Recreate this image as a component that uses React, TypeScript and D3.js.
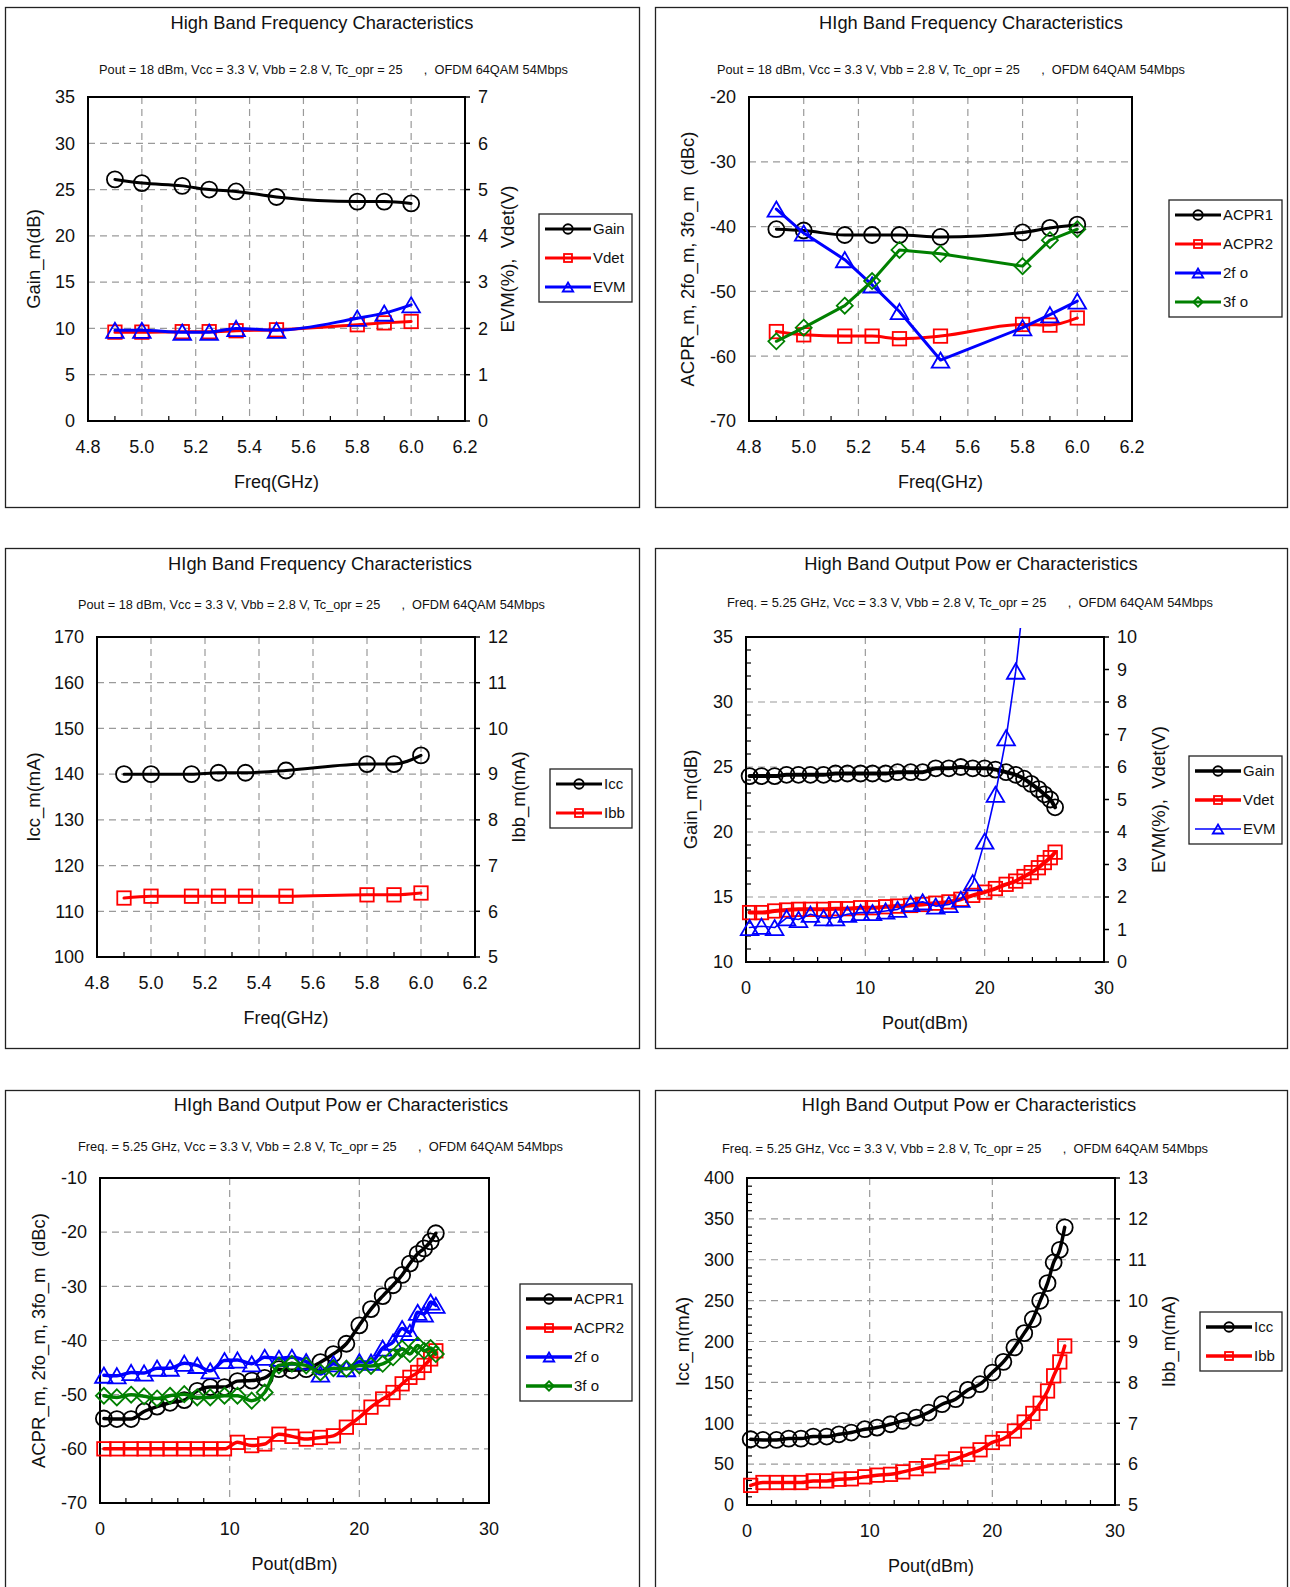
import React from "react";
import * as d3 from "d3";

// ---------- data ----------
const freqGHz = [4.9, 5.0, 5.15, 5.25, 5.35, 5.5, 5.8, 5.9, 6.0];
const freqTicks = [4.8, 5.0, 5.2, 5.4, 5.6, 5.8, 6.0, 6.2];

const gainFreq = [26.1, 25.7, 25.4, 25.0, 24.8, 24.2, 23.7, 23.7, 23.5];
const vdetFreq = [1.92, 1.92, 1.93, 1.93, 1.95, 1.97, 2.08, 2.12, 2.15];
const evmFreq = [1.96, 1.96, 1.92, 1.92, 2.0, 1.96, 2.22, 2.33, 2.51];

const acpr1Freq = [-40.4, -40.6, -41.3, -41.3, -41.3, -41.6, -40.9, -40.2, -39.7];
const acpr2Freq = [-56.2, -56.7, -56.9, -56.9, -57.3, -56.9, -55.1, -55.2, -54.1];
const fo2Freq = [-37.3, -41.0, -45.1, -49.0, -53.1, -60.6, -55.6, -53.6, -51.5];
const fo3Freq = [-57.7, -55.6, -52.2, -48.4, -43.6, -44.2, -46.1, -42.1, -40.4];

const iccFreq = [140.0, 140.0, 140.0, 140.3, 140.3, 140.8, 142.2, 142.2, 144.1];
const ibbFreq = [6.29, 6.33, 6.33, 6.33, 6.33, 6.33, 6.36, 6.36, 6.4];

const poutDbm = [0.3, 1.3, 2.4, 3.4, 4.4, 5.4, 6.5, 7.5, 8.5, 9.6, 10.6, 11.7, 12.7, 13.8, 14.8, 15.9, 17.0, 18.0, 19.0, 20.0, 20.9, 21.8, 22.6, 23.3, 23.9, 24.5, 25.0, 25.5, 25.9];
const poutTicks = [0, 10, 20, 30];

const gainPout = [24.3, 24.3, 24.3, 24.4, 24.4, 24.4, 24.4, 24.5, 24.5, 24.5, 24.5, 24.5, 24.6, 24.6, 24.6, 24.9, 24.9, 25.0, 24.9, 24.9, 24.8, 24.6, 24.4, 24.1, 23.7, 23.3, 22.9, 22.5, 21.9];
const vdetPout = [1.52, 1.52, 1.57, 1.6, 1.62, 1.62, 1.62, 1.64, 1.64, 1.67, 1.67, 1.7, 1.72, 1.74, 1.77, 1.81, 1.85, 1.93, 2.05, 2.15, 2.26, 2.39, 2.49, 2.63, 2.75, 2.9, 3.06, 3.21, 3.38];
const evmPout = [1.06, 1.1, 1.06, 1.36, 1.31, 1.47, 1.36, 1.36, 1.47, 1.52, 1.52, 1.57, 1.62, 1.8, 1.85, 1.72, 1.77, 1.93, 2.44, 3.72, 5.16, 6.9, 8.95, 11.3];

const acpr1Pout = [-54.4, -54.5, -54.5, -53.1, -52.2, -51.5, -51.0, -49.3, -48.6, -48.6, -47.5, -47.4, -46.9, -45.3, -45.5, -45.3, -44.0, -42.5, -40.6, -37.2, -34.2, -31.8, -29.8, -27.9, -25.8, -24.0, -23.0, -21.7, -20.2];
const acpr2Pout = [-60, -60, -60, -60, -60, -60, -60, -60, -60, -60, -58.8, -59.4, -59.1, -57.3, -57.7, -58.2, -57.9, -57.6, -56.0, -54.2, -52.3, -50.8, -49.6, -48.0, -46.8, -45.9, -44.6, -43.4, -41.9];
const fo2Pout = [-46.4, -46.5, -45.9, -46.0, -45.1, -45.1, -44.2, -44.6, -45.6, -43.7, -43.6, -44.3, -43.1, -43.3, -43.1, -43.9, -46.2, -44.3, -45.2, -43.9, -44.0, -41.4, -40.3, -37.8, -38.5, -34.8, -35.1, -32.9, -33.5];
const fo3Pout = [-50.2, -50.5, -50.0, -50.3, -50.7, -50.2, -49.9, -50.5, -50.5, -50.2, -50.2, -51.1, -49.6, -44.6, -44.3, -44.6, -45.9, -45.1, -45.2, -44.6, -44.7, -44.3, -43.1, -41.5, -42.5, -40.9, -41.9, -41.4, -42.5];

const iccPout = [80.4, 79.6, 79.6, 81.2, 81.2, 83.7, 83.7, 86.5, 88.6, 92.7, 94.7, 98.8, 102.9, 106.9, 113.1, 123.3, 129.4, 140.8, 147.8, 162.0, 175.1, 192.7, 210.2, 227.3, 249.8, 271.4, 296.7, 312.2, 339.6];
const ibbPout = [5.48, 5.55, 5.55, 5.55, 5.55, 5.59, 5.59, 5.63, 5.64, 5.69, 5.73, 5.75, 5.81, 5.89, 5.96, 6.05, 6.13, 6.24, 6.35, 6.53, 6.62, 6.81, 7.03, 7.24, 7.49, 7.79, 8.16, 8.5, 8.89];

const subFreq = "Pout = 18 dBm, Vcc = 3.3 V, Vbb = 2.8 V, Tc_opr = 25      ,  OFDM 64QAM 54Mbps";
const subPout = "Freq. = 5.25 GHz, Vcc = 3.3 V, Vbb = 2.8 V, Tc_opr = 25      ,  OFDM 64QAM 54Mbps";

// ---------- drawing ----------
const FONT = "'Liberation Sans', Arial, Helvetica, sans-serif";
const BLACK = "#000000";
const RED = "#ff0000";
const BLUE = "#0000ff";
const GREEN = "#008000";

type Marker = "circle" | "square" | "triangle" | "diamond";
type Series = { name: string; color: string; marker: Marker; xs: number[]; ys: number[]; right?: boolean; width: number; straight?: boolean };
type Axis = { domain: [number, number]; ticks: number[]; minor?: number; label?: string; titleX?: number; fmt?: (v: number) => string };
type PanelSpec = {
  id: string;
  box: [number, number, number, number];
  title: string;
  titleX: number;
  titleY: number;
  subX: number;
  subY: number;
  subLen: number;
  sub: string;
  plot: { l: number; r: number; t: number; b: number };
  x: Axis;
  yl: Axis;
  yr?: Axis;
  legend: { x: number; y: number; w: number };
  series: Series[];
};

function Mark({ kind, cx, cy, s, color }: { kind: Marker; cx: number; cy: number; s: number; color: string }) {
  const sw = 1.8;
  if (kind === "circle") return <circle cx={cx} cy={cy} r={s / 2} fill="none" stroke={color} strokeWidth={sw} />;
  if (kind === "square") {
    const a = s * 0.84;
    return <rect x={cx - a / 2} y={cy - a / 2} width={a} height={a} fill="none" stroke={color} strokeWidth={sw} />;
  }
  if (kind === "triangle") {
    const w = s * 1.1, h = s * 0.95;
    return <path d={`M${cx},${cy - h / 2}L${cx + w / 2},${cy + h / 2}L${cx - w / 2},${cy + h / 2}Z`} fill="none" stroke={color} strokeWidth={sw} />;
  }
  const r = s * 0.5;
  return <path d={`M${cx},${cy - r}L${cx + r},${cy}L${cx},${cy + r}L${cx - r},${cy}Z`} fill="none" stroke={color} strokeWidth={sw} />;
}

function minorTicks(domain: [number, number], step: number, major: number[]) {
  return d3.range(domain[0], domain[1] + step / 2, step)
    .filter(v => !major.some(m => Math.abs(m - v) < step / 10));
}

function Panel({ spec }: { spec: PanelSpec }) {
  const { plot } = spec;
  const x = d3.scaleLinear().domain(spec.x.domain).range([plot.l, plot.r]);
  const yl = d3.scaleLinear().domain(spec.yl.domain).range([plot.b, plot.t]);
  const yr = spec.yr ? d3.scaleLinear().domain(spec.yr.domain).range([plot.b, plot.t]) : yl;
  const smooth = d3.line<[number, number]>().x(d => d[0]).y(d => d[1]).curve(d3.curveMonotoneX);
  const straight = d3.line<[number, number]>().x(d => d[0]).y(d => d[1]);
  const xf = spec.x.fmt || ((v: number) => String(v));
  const xMinor = spec.x.minor ? minorTicks(spec.x.domain, spec.x.minor, spec.x.ticks) : [];
  const ylMinor = spec.yl.minor ? minorTicks(spec.yl.domain, spec.yl.minor, spec.yl.ticks) : [];
  const cx = (plot.l + plot.r) / 2;
  const cy = (plot.t + plot.b) / 2;
  const [bx, by, bw, bh] = spec.box;
  const lg = spec.legend;
  const lgH = 30 + 29 * (spec.series.length - 1);

  return (
    <g>
      <rect x={bx} y={by} width={bw} height={bh} fill="#fff" stroke="#222" strokeWidth={1.3} />
      <text x={spec.titleX} y={spec.titleY} dy="0.35em" textAnchor="middle" fontSize={18.3}>{spec.title}</text>
      <text x={spec.subX} y={spec.subY} dy="0.35em" fontSize={12.5} textLength={spec.subLen} lengthAdjust="spacingAndGlyphs" style={{ whiteSpace: "pre" }}>{spec.sub}</text>

      <defs>
        <clipPath id={`clip-${spec.id}`}>
          <rect x={plot.l - 12} y={plot.t - 9} width={plot.r - plot.l + 24} height={plot.b - plot.t + 18} />
        </clipPath>
      </defs>

      {/* grid */}
      {spec.x.ticks.slice(1, -1).map(v => (
        <line key={"vx" + v} x1={x(v)} x2={x(v)} y1={plot.t} y2={plot.b} stroke="#9a9a9a" strokeWidth={1.2} strokeDasharray="7,5" />
      ))}
      {spec.yl.ticks.slice(1, -1).map(v => (
        <line key={"hy" + v} x1={plot.l} x2={plot.r} y1={yl(v)} y2={yl(v)} stroke="#9a9a9a" strokeWidth={1.2} strokeDasharray="7,5" />
      ))}

      {/* minor ticks, inward */}
      {xMinor.map(v => (
        <line key={"mx" + v} x1={x(v)} x2={x(v)} y1={plot.b} y2={plot.b - 5} stroke={BLACK} strokeWidth={1.2} />
      ))}
      {ylMinor.map(v => (
        <line key={"my" + v} x1={plot.l} x2={plot.l + 5} y1={yl(v)} y2={yl(v)} stroke={BLACK} strokeWidth={1.2} />
      ))}
      {spec.yr && spec.yr.ticks.map(v => (
        <line key={"ry" + v} x1={plot.r} x2={plot.r + 5} y1={yr(v)} y2={yr(v)} stroke={BLACK} strokeWidth={1.5} />
      ))}

      <rect x={plot.l} y={plot.t} width={plot.r - plot.l} height={plot.b - plot.t} fill="none" stroke={BLACK} strokeWidth={2} />

      {/* tick labels */}
      {spec.x.ticks.map(v => (
        <text key={"tx" + v} x={x(v)} y={plot.b + 26} dy="0.35em" textAnchor="middle" fontSize={18}>{xf(v)}</text>
      ))}
      {spec.yl.ticks.map(v => (
        <text key={"tl" + v} x={plot.l - 13} y={yl(v)} dy="0.35em" textAnchor="end" fontSize={18}>{v}</text>
      ))}
      {spec.yr && spec.yr.ticks.map(v => (
        <text key={"tr" + v} x={plot.r + 13} y={yr(v)} dy="0.35em" textAnchor="start" fontSize={18}>{v}</text>
      ))}

      {/* axis titles */}
      <text x={cx} y={plot.b + 61} dy="0.35em" textAnchor="middle" fontSize={18}>{spec.x.label}</text>
      <text transform={`translate(${spec.yl.titleX},${cy}) rotate(-90)`} dy="0.35em" textAnchor="middle" fontSize={18.5} style={{ whiteSpace: "pre" }}>{spec.yl.label}</text>
      {spec.yr && (
        <text transform={`translate(${spec.yr.titleX},${cy}) rotate(-90)`} dy="0.35em" textAnchor="middle" fontSize={18.5} style={{ whiteSpace: "pre" }}>{spec.yr.label}</text>
      )}

      {/* series */}
      <g clipPath={`url(#clip-${spec.id})`}>
        {spec.series.map(s => {
          const ys = s.right ? yr : yl;
          const pts: [number, number][] = s.ys.map((v, i) => [x(s.xs[i]), ys(v)]);
          const gen = s.straight ? straight : smooth;
          return (
            <g key={s.name}>
              <path d={gen(pts) || ""} fill="none" stroke={s.color} strokeWidth={s.width} strokeLinejoin="round" strokeLinecap="round" />
              {pts.map((p, i) => <Mark key={i} kind={s.marker} cx={p[0]} cy={p[1]} s={16} color={s.color} />)}
            </g>
          );
        })}
      </g>

      {/* legend */}
      <rect x={lg.x} y={lg.y} width={lg.w} height={lgH} fill="#fff" stroke="#222" strokeWidth={1.3} />
      {spec.series.map((s, i) => {
        const ry = lg.y + 15 + i * 29;
        return (
          <g key={"lg" + s.name}>
            <line x1={lg.x + 6} x2={lg.x + 52} y1={ry} y2={ry} stroke={s.color} strokeWidth={Math.min(s.width, 3.5)} />
            <Mark kind={s.marker} cx={lg.x + 29} cy={ry} s={9.5} color={s.color} />
            <text x={lg.x + 54} y={ry} dy="0.35em" fontSize={15}>{s.name}</text>
          </g>
        );
      })}
    </g>
  );
}

const f1 = d3.format(".1f");
const freqAxis = { domain: [4.8, 6.2] as [number, number], ticks: freqTicks, minor: 0.1, label: "Freq(GHz)", fmt: f1 };
const poutAxis = { domain: [0, 30] as [number, number], ticks: poutTicks, minor: 2, label: "Pout(dBm)" };
const acprLabel = "ACPR_m, 2fo_m, 3fo_m  (dBc)";

const panels: PanelSpec[] = [
  {
    id: "p1", box: [5.5, 7.5, 634, 500],
    title: "High Band Frequency Characteristics", titleX: 322, titleY: 22.5,
    sub: subFreq, subX: 99, subY: 70, subLen: 469,
    plot: { l: 88, r: 465, t: 97, b: 421 },
    x: freqAxis,
    yl: { domain: [0, 35], ticks: d3.range(0, 36, 5), label: "Gain_m(dB)", titleX: 33.5 },
    yr: { domain: [0, 7], ticks: d3.range(0, 8, 1), label: "EVM(%),  Vdet(V)", titleX: 508 },
    legend: { x: 539, y: 214, w: 93 },
    series: [
      { name: "Gain", color: BLACK, marker: "circle", xs: freqGHz, ys: gainFreq, width: 3 },
      { name: "Vdet", color: RED, marker: "square", xs: freqGHz, ys: vdetFreq, right: true, width: 3 },
      { name: "EVM", color: BLUE, marker: "triangle", xs: freqGHz, ys: evmFreq, right: true, width: 3 },
    ],
  },
  {
    id: "p2", box: [655.5, 7.5, 632, 500],
    title: "HIgh Band Frequency Characteristics", titleX: 971, titleY: 22.5,
    sub: subFreq, subX: 717, subY: 70, subLen: 468,
    plot: { l: 749, r: 1132, t: 97, b: 421 },
    x: freqAxis,
    yl: { domain: [-70, -20], ticks: d3.range(-70, -19, 10), label: acprLabel, titleX: 688 },
    legend: { x: 1169, y: 200, w: 113 },
    series: [
      { name: "ACPR1", color: BLACK, marker: "circle", xs: freqGHz, ys: acpr1Freq, width: 3 },
      { name: "ACPR2", color: RED, marker: "square", xs: freqGHz, ys: acpr2Freq, width: 3 },
      { name: "2f o", color: BLUE, marker: "triangle", xs: freqGHz, ys: fo2Freq, width: 3, straight: true },
      { name: "3f o", color: GREEN, marker: "diamond", xs: freqGHz, ys: fo3Freq, width: 3, straight: true },
    ],
  },
  {
    id: "p3", box: [5.5, 548.5, 634, 500],
    title: "HIgh Band Frequency Characteristics", titleX: 320, titleY: 563.5,
    sub: subFreq, subX: 78, subY: 605, subLen: 467,
    plot: { l: 97, r: 475, t: 637, b: 957 },
    x: freqAxis,
    yl: { domain: [100, 170], ticks: d3.range(100, 171, 10), label: "Icc_m(mA)", titleX: 33.5 },
    yr: { domain: [5, 12], ticks: d3.range(5, 13, 1), label: "Ibb_m(mA)", titleX: 519 },
    legend: { x: 550, y: 769, w: 82 },
    series: [
      { name: "Icc", color: BLACK, marker: "circle", xs: freqGHz, ys: iccFreq, width: 3 },
      { name: "Ibb", color: RED, marker: "square", xs: freqGHz, ys: ibbFreq, right: true, width: 3 },
    ],
  },
  {
    id: "p4", box: [655.5, 548.5, 632, 500],
    title: "High Band Output Pow er Characteristics", titleX: 971, titleY: 563.5,
    sub: subPout, subX: 727, subY: 603, subLen: 486,
    plot: { l: 746, r: 1104, t: 637, b: 962 },
    x: poutAxis,
    yl: { domain: [10, 35], ticks: d3.range(10, 36, 5), minor: 1, label: "Gain_m(dB)", titleX: 691 },
    yr: { domain: [0, 10], ticks: d3.range(0, 11, 1), label: "EVM(%),  Vdet(V)", titleX: 1158.5 },
    legend: { x: 1189, y: 756, w: 93 },
    series: [
      { name: "Gain", color: BLACK, marker: "circle", xs: poutDbm, ys: gainPout, width: 4 },
      { name: "Vdet", color: RED, marker: "square", xs: poutDbm, ys: vdetPout, right: true, width: 4 },
      { name: "EVM", color: BLUE, marker: "triangle", xs: poutDbm, ys: evmPout, right: true, width: 1.6, straight: true },
    ],
  },
  {
    id: "p5", box: [5.5, 1090.5, 634, 500],
    title: "HIgh Band Output Pow er Characteristics", titleX: 341, titleY: 1105,
    sub: subPout, subX: 78, subY: 1147, subLen: 485,
    plot: { l: 100, r: 489, t: 1178, b: 1503 },
    x: poutAxis,
    yl: { domain: [-70, -10], ticks: d3.range(-70, -9, 10), label: acprLabel, titleX: 38.5 },
    legend: { x: 520, y: 1284, w: 112 },
    series: [
      { name: "ACPR1", color: BLACK, marker: "circle", xs: poutDbm, ys: acpr1Pout, width: 3.5 },
      { name: "ACPR2", color: RED, marker: "square", xs: poutDbm, ys: acpr2Pout, width: 3.5 },
      { name: "2f o", color: BLUE, marker: "triangle", xs: poutDbm, ys: fo2Pout, width: 3.5 },
      { name: "3f o", color: GREEN, marker: "diamond", xs: poutDbm, ys: fo3Pout, width: 3.5 },
    ],
  },
  {
    id: "p6", box: [655.5, 1090.5, 632, 500],
    title: "HIgh Band Output Pow er Characteristics", titleX: 969, titleY: 1105,
    sub: subPout, subX: 722, subY: 1149, subLen: 486,
    plot: { l: 747, r: 1115, t: 1178, b: 1505 },
    x: poutAxis,
    yl: { domain: [0, 400], ticks: d3.range(0, 401, 50), minor: 10, label: "Icc_m(mA)", titleX: 683 },
    yr: { domain: [5, 13], ticks: d3.range(5, 14, 1), label: "Ibb_m(mA)", titleX: 1168.5 },
    legend: { x: 1200, y: 1312, w: 82 },
    series: [
      { name: "Icc", color: BLACK, marker: "circle", xs: poutDbm, ys: iccPout, width: 3.5 },
      { name: "Ibb", color: RED, marker: "square", xs: poutDbm, ys: ibbPout, right: true, width: 3.5 },
    ],
  },
];

export default function App() {
  return (
    <svg
      width={1290}
      height={1587}
      viewBox="0 0 1290 1587"
      style={{ position: "absolute", left: 0, top: 0, background: "#fff" }}
      fontFamily={FONT}
      fill="#111"
    >
      {panels.map(p => <Panel key={p.id} spec={p} />)}
    </svg>
  );
}
